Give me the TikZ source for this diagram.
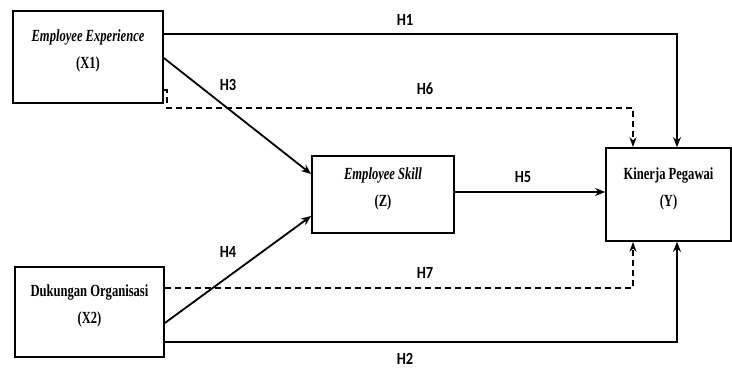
\documentclass[tikz,border=0pt]{standalone}
\usepackage{fontspec}
\setmainfont{Liberation Serif}[FakeStretch=0.74]
\newfontfamily\hfont{Carlito}[FakeStretch=0.85]
\usetikzlibrary{arrows.meta}
\begin{document}
\begin{tikzpicture}[x=1pt,y=-1pt,
  box/.style={draw,line width=1.7pt,rectangle,inner sep=0pt,align=center,
    font=\fontsize{17}{27}\selectfont\bfseries},
  conn/.style={line width=1.8pt,-{Stealth[length=10pt,width=8pt]}},
  dconn/.style={line width=1.6pt,dash pattern=on 6pt off 4pt,-{Stealth[length=10pt,width=7pt]}},
  hyp/.style={font=\fontsize{17}{17}\selectfont\hfont\bfseries,inner sep=0pt}]
\useasboundingbox (0,0) rectangle (732,370);
\node[box,minimum width=150pt,minimum height=92pt] (X1) at (88,57) {\\[-30pt]\itshape Employee Experience\\(X1)};
\node[box,minimum width=149pt,minimum height=90pt] (X2) at (89.5,312) {\\[-30pt]Dukungan Organisasi\\(X2)};
\node[box,minimum width=142pt,minimum height=77pt] (Z) at (383,194.5) {\\[-30pt]\itshape Employee Skill\\(Z)};
\node[box,minimum width=125pt,minimum height=93pt] (Y) at (668.5,194.5) {\\[-30pt]Kinerja Pegawai\\(Y)};
% connectors
\coordinate (h1a) at (677,34);
\coordinate (h2a) at (677,342);
\coordinate (h6a) at (167,90);
\coordinate (h6b) at (167,108);
\coordinate (h6c) at (633,108);
\coordinate (h7a) at (633,288);
\draw[conn] (X1.east |- h1a) -- (h1a) -- (h1a |- Y.north);
\draw[conn] (X2.east |- h2a) -- (h2a) -- (h2a |- Y.south);
\draw[conn] (X1.east |- 0,58) -- (Z.west |- 0,174);
\draw[conn] (X2.east |- 0,323) -- (Z.west |- 0,216);
\draw[conn] (Z.east |- 0,192) -- (Y.west |- 0,192);
\draw[dconn] (X1.east |- h6a) -- (h6a) -- (h6b) -- (h6c) -- (h6c |- Y.north);
\draw[dconn] (X2.east |- h7a) -- (h7a) -- (h7a |- Y.south);
% labels
\node[hyp] (L1) at (405,20) {H1};
\node[hyp] (L3) at (228,85) {H3};
\node[hyp] (L6) at (425,89) {H6};
\node[hyp] (L5) at (523,177) {H5};
\node[hyp] (L4) at (228,252) {H4};
\node[hyp] (L7) at (425,273) {H7};
\node[hyp] (L2) at (405,359) {H2};
\end{tikzpicture}
\end{document}
